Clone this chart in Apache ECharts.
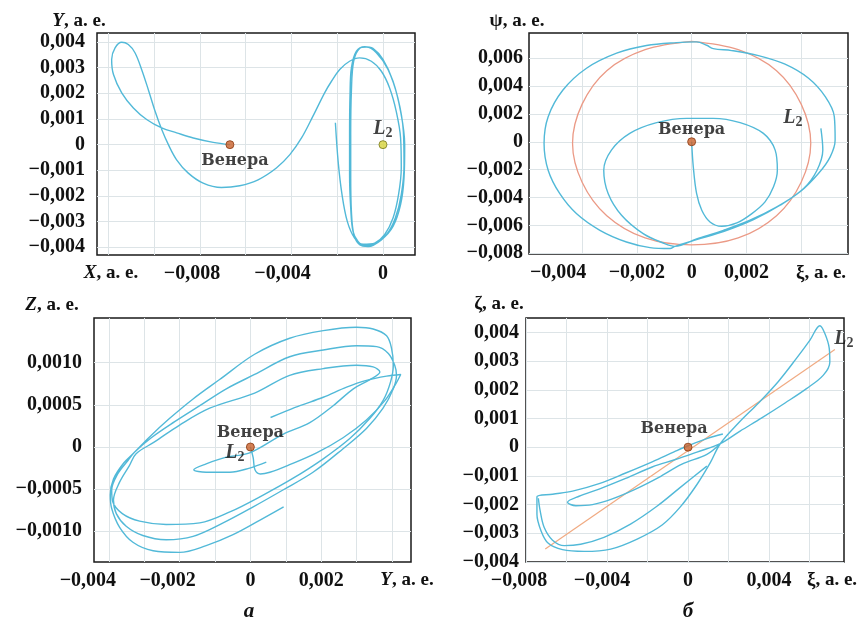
<!DOCTYPE html>
<html>
<head>
<meta charset="utf-8">
<script src="https://cdn.jsdelivr.net/npm/echarts@6/dist/echarts.min.js"></script>
<style>
  html, body { margin: 0; padding: 0; background: #fff; }
  #chart { width: 865px; height: 621px; }
</style>
</head>
<body>
<div id="chart"></div>
<script>
// --- panel a (top): X-Y plane ---
const xyTrajectory = [
  [-0.00669, 0], [-0.00742, 0.00009], [-0.00829, 0.00026], [-0.00902, 0.00046], [-0.00967, 0.00065],
  [-0.01033, 0.00098], [-0.01091, 0.00143], [-0.01142, 0.00202], [-0.01178, 0.00273], [-0.01186, 0.00332],
  [-0.01171, 0.00377], [-0.01142, 0.00399], [-0.01113, 0.0039], [-0.01084, 0.00358], [-0.01055, 0.00293],
  [-0.01026, 0.00215], [-0.00996, 0.0013], [-0.00967, 0.00059], [-0.00938, 0], [-0.00902, -0.00059],
  [-0.00851, -0.00111], [-0.00786, -0.0015], [-0.00706, -0.00167], [-0.00626, -0.0016], [-0.00546, -0.00137],
  [-0.00466, -0.00091], [-0.00407, -0.00039], [-0.00356, 0.00026], [-0.00306, 0.00111], [-0.00255, 0.00202],
  [-0.00225, 0.00247], [-0.00189, 0.00293], [-0.00146, 0.00325], [-0.00102, 0.00338], [-0.00051, 0.00325],
  [-0.00007, 0.00286], [0.00029, 0.00221], [0.00058, 0.0013], [0.00077, 0.00026], [0.0008, -0.00091],
  [0.00068, -0.00195], [0.00044, -0.00286], [0.00007, -0.00351], [-0.00036, -0.00384], [-0.0008, -0.00393],
  [-0.00109, -0.00377], [-0.00131, -0.00338], [-0.00141, -0.00247], [-0.00146, -0.00117], [-0.00146, 0.00039],
  [-0.00144, 0.00195], [-0.00138, 0.00299], [-0.00116, 0.00364], [-0.0008, 0.00382], [-0.00044, 0.00375],
  [0, 0.00332], [0.00044, 0.00247], [0.00077, 0.0013], [0.00095, 0], [0.00092, -0.0013],
  [0.00077, -0.00234], [0.00044, -0.00319], [-0.00007, -0.00371], [-0.00065, -0.00397], [-0.00102, -0.0039],
  [-0.00127, -0.00351], [-0.00138, -0.0026], [-0.00141, -0.00117], [-0.00141, 0.00039], [-0.00138, 0.00208],
  [-0.00128, 0.00325], [-0.00102, 0.00375], [-0.00073, 0.0038], [-0.00029, 0.00358], [0.00022, 0.00293],
  [0.00065, 0.00182], [0.00089, 0.00052], [0.00092, -0.00078], [0.0008, -0.00195], [0.00054, -0.00286],
  [0.00015, -0.00351], [-0.00036, -0.00384], [-0.00087, -0.00388], [-0.00124, -0.00364], [-0.00156, -0.00299],
  [-0.00179, -0.00195], [-0.00196, -0.00065], [-0.00208, 0.00085]
];
const xyVenus = [-0.00669, 0];
const xyL2 = [0, 0];

// --- panel b (top): xi-psi plane ---
const xiPsiTrajectory = [
  [0, 0], [0.00006, -0.0018], [0.00018, -0.00371], [0.00037, -0.00491], [0.00067, -0.00575],
  [0.0011, -0.00606], [0.00165, -0.00582], [0.0022, -0.00515], [0.00268, -0.00431], [0.00299, -0.00323],
  [0.00313, -0.00204], [0.00305, -0.0006], [0.00262, 0.0006], [0.00177, 0.00137], [0.00079, 0.00168],
  [-0.00018, 0.00168], [-0.00128, 0.00137], [-0.00226, 0.0006], [-0.00293, -0.0006], [-0.00321, -0.00204],
  [-0.00305, -0.00371], [-0.00256, -0.00527], [-0.00177, -0.00659], [-0.00104, -0.00726], [-0.00061, -0.0075],
  [0.00018, -0.00697], [0.00116, -0.00635], [0.00213, -0.00563], [0.00311, -0.00467], [0.00396, -0.00359],
  [0.00463, -0.00228], [0.00506, -0.00108], [0.00524, 0.00012], [0.00521, 0.0018], [0.00488, 0.00323],
  [0.00427, 0.00455], [0.00341, 0.00556], [0.00244, 0.00618], [0.00146, 0.00654], [0.00079, 0.00668],
  [0.00055, 0.00692], [0.00018, 0.00716], [-0.00055, 0.00711], [-0.00165, 0.0069], [-0.00274, 0.00635],
  [-0.00384, 0.00527], [-0.0047, 0.00371], [-0.00524, 0.0018], [-0.00539, -0.00012], [-0.00524, -0.00204],
  [-0.00482, -0.00371], [-0.00421, -0.00515], [-0.00335, -0.00635], [-0.00238, -0.00719], [-0.00152, -0.00759],
  [-0.00079, -0.00766], [-0.00061, -0.0075], [0.00018, -0.00702], [0.00116, -0.00644], [0.00226, -0.00558],
  [0.00323, -0.00455], [0.00409, -0.00335], [0.00457, -0.00208], [0.00479, -0.0006], [0.00472, 0.00096]
];
const xiPsiL2Orbit = [
  [0, 0.0072], [0.0017, 0.0066], [0.0031, 0.0051], [0.004, 0.0027], [0.00435, -0.0001],
  [0.004, -0.0029], [0.0031, -0.0053], [0.0017, -0.0069], [0, -0.0074], [-0.0017, -0.0069],
  [-0.0031, -0.0053], [-0.004, -0.0029], [-0.00435, -0.0001], [-0.004, 0.0027], [-0.0031, 0.0051],
  [-0.0017, 0.0066], [0, 0.0072]
];
const xiPsiVenus = [0, 0];
const xiPsiL2Label = [0.0037, 0.0017];

// --- panel a (bottom): Y-Z plane ---
const yzTrajectory = [
  [0.00094, -0.00071], [0.00026, -0.00087], [-0.00049, -0.00104], [-0.00125, -0.00117], [-0.002, -0.00125],
  [-0.00275, -0.00123], [-0.00332, -0.00113], [-0.0037, -0.00095], [-0.00392, -0.00073], [-0.00396, -0.00057],
  [-0.00387, -0.00038], [-0.00358, -0.00019], [-0.00327, -0.00006], [-0.00285, 0.00012], [-0.00228, 0.00034],
  [-0.00162, 0.00057], [-0.00087, 0.0008], [0.00012, 0.0011], [0.00111, 0.00129], [0.00206, 0.00138],
  [0.003, 0.00142], [0.00347, 0.0014], [0.00385, 0.00132], [0.00399, 0.00117], [0.00404, 0.00097],
  [0.00396, 0.00077], [0.00375, 0.00055], [0.00338, 0.00034], [0.00281, 0.0001], [0.00206, -0.00014],
  [0.00121, -0.00037], [0.00036, -0.00057], [-0.00058, -0.00077], [-0.00143, -0.0009], [-0.00238, -0.00092],
  [-0.00313, -0.00088], [-0.00362, -0.00079], [-0.00389, -0.00065], [-0.00392, -0.00051], [-0.00375, -0.00032],
  [-0.00346, -0.00016], [-0.00327, -0.00006], [-0.0028, 0.00011], [-0.00214, 0.0003], [-0.00143, 0.00049],
  [-0.00068, 0.00069], [0.00012, 0.00086], [0.00111, 0.00107], [0.00206, 0.00115], [0.003, 0.0012],
  [0.00357, 0.00119], [0.0039, 0.00111], [0.00408, 0.00097], [0.00413, 0.00085], [0.00404, 0.00069],
  [0.00375, 0.00046], [0.00328, 0.00022], [0.00262, -0.00002], [0.00177, -0.0003], [0.00092, -0.00051],
  [0.00008, -0.00071], [-0.00077, -0.0009], [-0.00162, -0.00106], [-0.00238, -0.0011], [-0.00304, -0.00105],
  [-0.00351, -0.00094], [-0.00379, -0.00079], [-0.00387, -0.00063], [-0.0037, -0.00042], [-0.00342, -0.00022],
  [-0.00323, -0.00008], [-0.00271, 0.00006], [-0.002, 0.00026], [-0.00115, 0.00046], [0.00012, 0.00064],
  [0.00111, 0.00085], [0.00206, 0.00093], [0.003, 0.00097], [0.00347, 0.00095], [0.00366, 0.00089],
  [0.00338, 0.0008], [0.00291, 0.00069], [0.00234, 0.00049], [0.00168, 0.00029], [0.00092, 0.00015],
  [-0.00002, -0.00007], [-0.00068, -0.00012], [-0.00125, -0.0002], [-0.0016, -0.00027], [-0.00125, -0.0003],
  [-0.00058, -0.0003], [-0.00002, -0.00025], [0.00045, -0.00018]
];
const yzVenusArc = [
  [0, 0], [0.00008, -0.00013], [0.00013, -0.00027], [0.00028, -0.00032], [0.00055, -0.0003],
  [0.00111, -0.00021], [0.00187, -0.00007], [0.00262, 0.00011], [0.00328, 0.00032], [0.0038, 0.00055],
  [0.00411, 0.00075], [0.00425, 0.00086], [0.00385, 0.00084], [0.00328, 0.00079], [0.00272, 0.00071],
  [0.00206, 0.00059], [0.0014, 0.00049], [0.00092, 0.00041], [0.00057, 0.00035]
];
const yzVenus = [0, 0];

// --- panel b (bottom): xi-zeta plane ---
const xiZetaTrajectory = [
  [0.00172, 0.00046], [0.00093, 0.0003], [0, 0.00005], [-0.00062, -0.00014], [-0.00177, -0.00051],
  [-0.00308, -0.0009], [-0.00439, -0.00127], [-0.0057, -0.00153], [-0.00669, -0.00164], [-0.00746, -0.00173],
  [-0.00746, -0.00234], [-0.00726, -0.00291], [-0.0069, -0.00335], [-0.0062, -0.00357], [-0.00513, -0.00363],
  [-0.00382, -0.00355], [-0.00251, -0.0032], [-0.00128, -0.00271], [-0.00038, -0.00208], [0.00044, -0.0013],
  [0.0011, -0.00054], [0.00159, 0.00012], [0.00249, 0.00084], [0.00348, 0.00154], [0.00446, 0.00229],
  [0.00536, 0.0031], [0.00602, 0.00373], [0.00651, 0.00423], [0.00675, 0.00397], [0.00697, 0.00345],
  [0.007, 0.00296], [0.00667, 0.0025], [0.00585, 0.00204], [0.00479, 0.00154], [0.00364, 0.00102],
  [0.00257, 0.00056], [0.00159, 0.00012], [0.00044, -0.00017], [-0.00062, -0.00043], [-0.00177, -0.00069],
  [-0.00308, -0.00109], [-0.00439, -0.00146], [-0.00538, -0.00171], [-0.00595, -0.00192], [-0.00554, -0.00204],
  [-0.00472, -0.002], [-0.00374, -0.0018], [-0.00259, -0.00146], [-0.00144, -0.00105], [-0.0003, -0.00059],
  [0.00093, -0.00025], [0.00159, 0.00012]
];
const xiZetaTail = [
  [0.00093, -0.00066], [-0.00038, -0.0014], [-0.00152, -0.00205], [-0.00284, -0.00268], [-0.00415, -0.00314],
  [-0.0053, -0.00338], [-0.00611, -0.00343], [-0.00669, -0.00324], [-0.0071, -0.0028], [-0.0073, -0.00222],
  [-0.00739, -0.00178]
];
const xiZetaL2Line = [[-0.00705, -0.00355], [0.00725, 0.0034]];
const xiZetaVenus = [0, 0];

// ticks (grid lines) and labelled values
const xyXTicks = [-0.012, -0.01, -0.008, -0.006, -0.004, -0.002, 0];
const xyXLabels = [-0.008, -0.004, 0];
const xyYTicks = [-0.004, -0.003, -0.002, -0.001, 0, 0.001, 0.002, 0.003, 0.004];
const xiPsiXTicks = [-0.004, -0.002, 0, 0.002, 0.004];
const xiPsiXLabels = [-0.004, -0.002, 0, 0.002];
const xiPsiYTicks = [-0.008, -0.006, -0.004, -0.002, 0, 0.002, 0.004, 0.006];
const yzXTicks = [-0.004, -0.003, -0.002, -0.001, 0, 0.001, 0.002, 0.003, 0.004];
const yzXLabels = [-0.004, -0.002, 0, 0.002];
const yzYTicks = [-0.001, -0.0005, 0, 0.0005, 0.001];
const xiZetaXTicks = [-0.008, -0.006, -0.004, -0.002, 0, 0.002, 0.004, 0.006];
const xiZetaXLabels = [-0.008, -0.004, 0, 0.004];
const xiZetaYTicks = [-0.004, -0.003, -0.002, -0.001, 0, 0.001, 0.002, 0.003, 0.004];

const SERIF = 'Liberation Serif';
const WIDE_SERIF = 'DejaVu Serif';
const BLUE = '#52b9d8';
const INK = '#111';

function fmt(v, digits) {
  if (Math.abs(v) < 1e-12) return '0';
  return (v < 0 ? '\u2212' : '') + Math.abs(v).toFixed(digits).replace('.', ',');
}

// shifts: [[value, rightPadding]] pushes some labels left like in the print
function makeAxis(gridIndex, min, max, ticks, labels, digits, margin, shifts) {
  const rich = {};
  (shifts || []).forEach(s => {
    rich['p' + s[1]] = { fontFamily: SERIF, fontWeight: 'bold', fontSize: 20, color: INK, padding: [0, s[1], 0, 0] };
  });
  return {
    type: 'value', gridIndex: gridIndex, min: min, max: max,
    axisLine: { show: false },
    axisTick: { show: false, customValues: ticks },
    splitLine: { show: true, lineStyle: { color: '#dde4e7', width: 1 } },
    axisLabel: {
      customValues: labels, margin: margin,
      fontFamily: SERIF, fontWeight: 'bold', fontSize: 20, color: INK,
      rich: rich,
      formatter: function (v) {
        const t = fmt(v, digits);
        const hit = (shifts || []).find(s => Math.abs(s[0] - v) < 1e-9);
        return hit ? '{p' + hit[1] + '|' + t + '}' : t;
      }
    }
  };
}

function curve(i, data, color, width) {
  return {
    type: 'line', xAxisIndex: i, yAxisIndex: i, data: data, smooth: 0.35,
    symbol: 'none', lineStyle: { color: color, width: width }, z: 3, silent: true
  };
}

const venusText = { formatter: 'Венера', fontFamily: WIDE_SERIF, fontWeight: 'bold', fontSize: 16, color: INK };
const l2Rich = {
  l: { fontFamily: SERIF, fontStyle: 'italic', fontWeight: 'bold', fontSize: 20, color: INK },
  s: { fontFamily: SERIF, fontWeight: 'bold', fontSize: 14, color: INK, padding: [9, 0, 0, 0] }
};

function dot(i, point, fill, border, label) {
  return {
    type: 'scatter', xAxisIndex: i, yAxisIndex: i, data: [point], symbolSize: 8, z: 5,
    itemStyle: { color: fill, borderColor: border, borderWidth: 1 },
    label: label
  };
}

function axisTitle(x, y, italicPart, rest, italic) {
  return {
    type: 'text', x: x, y: y, z: 10,
    style: {
      text: '{v|' + italicPart + '}{n|' + rest + '}',
      align: 'center', verticalAlign: 'middle',
      rich: {
        v: { fontFamily: SERIF, fontWeight: 'bold', fontStyle: italic ? 'italic' : 'normal', fontSize: 19, fill: INK },
        n: { fontFamily: SERIF, fontWeight: 'bold', fontSize: 19, fill: INK }
      }
    }
  };
}

const chart = echarts.init(document.getElementById('chart'), null, { renderer: 'canvas' });

const gridBox = { show: true, borderColor: '#1a1a1a', borderWidth: 1.5, backgroundColor: '#fff' };

chart.setOption({
  animation: false,
  backgroundColor: '#fff',
  grid: [
    Object.assign({ left: 97, top: 33, width: 318, height: 222 }, gridBox),
    Object.assign({ left: 529, top: 33, width: 319, height: 221 }, gridBox),
    Object.assign({ left: 94, top: 318, width: 317, height: 244 }, gridBox),
    Object.assign({ left: 526, top: 318, width: 318, height: 244 }, gridBox)
  ],
  xAxis: [
    makeAxis(0, -0.0125, 0.0014, xyXTicks, xyXLabels, 3, 9, [[-0.008, 16], [-0.004, 18]]),
    makeAxis(1, -0.00594, 0.00571, xiPsiXTicks, xiPsiXLabels, 3, 9, [[-0.004, 48]]),
    makeAxis(2, -0.00442, 0.00454, yzXTicks, yzXLabels, 3, 9, [[-0.004, 42], [-0.002, 24]]),
    makeAxis(3, -0.008, 0.0077, xiZetaXTicks, xiZetaXLabels, 3, 9, [[-0.008, 14], [-0.004, 10]])
  ],
  yAxis: [
    makeAxis(0, -0.0043, 0.00435, xyYTicks, xyYTicks, 3, 12),
    makeAxis(1, -0.00805, 0.0078, xiPsiYTicks, xiPsiYTicks, 3, 6),
    makeAxis(2, -0.001364, 0.00153, yzYTicks, yzYTicks, 4, 12),
    makeAxis(3, -0.004, 0.0045, xiZetaYTicks, xiZetaYTicks, 3, 7)
  ],
  series: [
    curve(0, xyTrajectory, BLUE, 1.4),
    dot(0, xyVenus, '#c9612c', '#8a3a12',
      Object.assign({ show: true, position: 'bottom', distance: 4, offset: [5, 0] }, venusText)),
    dot(0, xyL2, '#d8d43c', '#77771c', {
      show: true, position: 'top', distance: 0, offset: [0, 0],
      formatter: '{l|L}{s|2}', rich: l2Rich
    }),

    curve(1, xiPsiL2Orbit, '#eb9a86', 1.3),
    curve(1, xiPsiTrajectory, BLUE, 1.4),
    dot(1, xiPsiVenus, '#c9612c', '#8a3a12',
      Object.assign({ show: true, position: 'top', distance: -1 }, venusText)),
    {
      type: 'scatter', xAxisIndex: 1, yAxisIndex: 1, data: [xiPsiL2Label], symbolSize: 0, z: 6,
      label: { show: true, position: 'inside', formatter: '{l|L}{s|2}', rich: l2Rich }
    },

    curve(2, yzTrajectory, BLUE, 1.4),
    curve(2, yzVenusArc, BLUE, 1.4),
    dot(2, yzVenus, '#c9612c', '#8a3a12',
      Object.assign({ show: true, position: 'top', distance: 2, offset: [0, 0] }, venusText)),
    {
      type: 'scatter', xAxisIndex: 2, yAxisIndex: 2, data: [yzVenus], symbolSize: 0, z: 6,
      label: { show: true, position: 'left', distance: 6, offset: [0, 6], formatter: '{l|L}{s|2}', rich: l2Rich }
    },

    curve(3, xiZetaL2Line, '#f0aa82', 1.2),
    curve(3, xiZetaTrajectory, BLUE, 1.4),
    curve(3, xiZetaTail, BLUE, 1.4),
    dot(3, xiZetaVenus, '#c9612c', '#8a3a12',
      Object.assign({ show: true, position: 'top', distance: 3, offset: [-14, -3] }, venusText)),
    {
      type: 'scatter', xAxisIndex: 3, yAxisIndex: 3, data: [xiZetaL2Line[1]], symbolSize: 0, z: 6,
      label: { show: true, position: 'inside', offset: [9, -11], formatter: '{l|L}{s|2}', rich: l2Rich }
    }
  ],
  graphic: [
    axisTitle(79, 21, 'Y', ', а. е.', true),
    axisTitle(111, 273, 'X', ', а. е.', true),
    axisTitle(517, 21, 'ψ', ', а. е.', false),
    axisTitle(821, 273, 'ξ', ', а. е.', false),
    axisTitle(52, 305, 'Z', ', а. е.', true),
    axisTitle(407, 580, 'Y', ', а. е.', true),
    axisTitle(499, 304, 'ζ', ', а. е.', false),
    axisTitle(832, 580, 'ξ', ', а. е.', false),
    {
      type: 'text', x: 249, y: 612, style: {
        text: 'а', align: 'center', verticalAlign: 'middle',
        fontFamily: SERIF, fontStyle: 'italic', fontWeight: 'bold', fontSize: 21, fill: INK
      }
    },
    {
      type: 'text', x: 688, y: 612, style: {
        text: 'б', align: 'center', verticalAlign: 'middle',
        fontFamily: SERIF, fontStyle: 'italic', fontWeight: 'bold', fontSize: 21, fill: INK
      }
    }
  ]
});
</script>
</body>
</html>
